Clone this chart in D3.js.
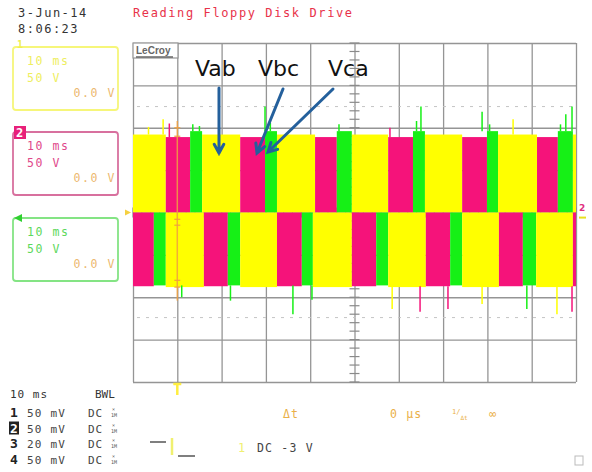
<!DOCTYPE html>
<html>
<head>
<meta charset="utf-8">
<script src="https://cdn.jsdelivr.net/npm/d3@7"></script>
<style>
  body { margin: 0; background: #fff; }
  svg { display: block; }
  .mono { font-family: "DejaVu Sans Mono", monospace; }
</style>
</head>
<body>
<svg id="scope" width="592" height="472"></svg>
<script>
// time axis is ms (10 ms/div), vertical is volts (50 V/div)
const timeTicks = [0, 10, 20, 30, 40, 50, 60, 70, 80, 90, 100];
const voltTicks = [200, 150, 100, 50, 0, -50, -100, -150, -200];

// positive half of the screen: segment edges (ms) and which line voltage is on top
const topEdges = [0, 7.4, 12.9, 15.6, 24.2, 29.8, 32.5, 41.1, 46.0, 49.4, 57.6, 63.2, 65.9, 74.3, 79.9, 82.4, 91.2, 95.9, 99.3, 100];
const topPhase = ["Vab", "Vbc", "Vca", "Vab", "Vbc", "Vca", "Vab", "Vbc", "Vca", "Vab", "Vbc", "Vca", "Vab", "Vbc", "Vca", "Vab", "Vbc", "Vca", "Vab"];
// negative half
const lowEdges = [0, 4.7, 7.4, 16.0, 21.4, 24.2, 32.5, 38.1, 40.6, 49.4, 54.9, 57.6, 66.1, 71.6, 74.3, 82.6, 88.0, 91.0, 99.3, 100];
const lowPhase = ["Vbc", "Vca", "Vab", "Vbc", "Vca", "Vab", "Vbc", "Vca", "Vab", "Vbc", "Vca", "Vab", "Vbc", "Vca", "Vab", "Vbc", "Vca", "Vab", "Vbc"];

const topLevel = { Vab: 92, Vbc: 89, Vca: 96 };
const lowLevel = { Vab: -88, Vbc: -87, Vca: -86 };

// switching spikes
const spikeUpT = [3.5, 6.8, 8.2, 13.5, 15.0, 29.8, 31.0, 46.5, 58.0, 64.0, 65.0, 78.8, 80.5, 85.8, 96.5, 97.7, 99.1];
const spikeUpV = [101, 110, 105, 104, 102, 125, 106, 104, 100, 108, 125, 119, 104, 110, 104, 116, 125];
const spikeUpP = ["Vab", "Vab", "Vbc", "Vca", "Vca", "Vca", "Vca", "Vca", "Vbc", "Vca", "Vca", "Vca", "Vca", "Vab", "Vca", "Vca", "Vca"];
const spikeDnT = [11.0, 22.0, 36.1, 40.4, 58.5, 64.8, 71.1, 78.8, 88.9, 95.7, 99.1];
const spikeDnV = [-100, -104, -120, -103, -114, -117, -114, -108, -114, -120, -117];
const spikeDnP = ["Vca", "Vca", "Vca", "Vca", "Vab", "Vbc", "Vbc", "Vab", "Vca", "Vab", "Vbc"];

const phaseColor = { Vab: "#ffff00", Vbc: "#f5137a", Vca: "#16f016" };

const labels = ["Vab", "Vbc", "Vca"];

const svg = d3.select("#scope");
const x = d3.scaleLinear().domain([0, 100]).range([133, 576]);
const y = d3.scaleLinear().domain([200, -200]).range([43, 382]);

// header
svg.append("text").attr("class", "mono").attr("x", 18).attr("y", 17)
  .attr("font-size", 12).attr("letter-spacing", 1.5).attr("fill", "#333").text("3-Jun-14");
svg.append("text").attr("class", "mono").attr("x", 18).attr("y", 33)
  .attr("font-size", 12).attr("letter-spacing", 1.5).attr("fill", "#333").text("8:06:23");
svg.append("text").attr("class", "mono").attr("x", 133).attr("y", 17)
  .attr("font-size", 12).attr("letter-spacing", 1.6).attr("fill", "#e8324a").text("Reading Floppy Disk Drive");

// grid
const grid = svg.append("g");
grid.append("g").attr("transform", `translate(0,${y(-200)})`)
  .call(d3.axisBottom(x).tickValues(timeTicks).tickSize(y(-200) - y(200)).tickFormat(""))
  .call(g => g.selectAll("line").attr("transform", `translate(0,${-(y(-200) - y(200))})`));
grid.append("g").attr("transform", `translate(${x(0)},0)`)
  .call(d3.axisRight(y).tickValues(voltTicks).tickSize(x(100) - x(0)).tickFormat(""));
grid.selectAll(".domain").remove();
grid.selectAll("line").attr("stroke", "#959595").attr("stroke-width", 1.3);

// dotted reference lines
[125, -124].forEach(v => {
  svg.append("line").attr("x1", x(0) + 4).attr("x2", x(100) - 4)
    .attr("y1", y(v)).attr("y2", y(v))
    .attr("stroke", "#c4c4c4").attr("stroke-width", 1).attr("stroke-dasharray", "3,6");
});

// center minor ticks
const centre = svg.append("g").attr("stroke", "#8a8a8a").attr("stroke-width", 1.2);
d3.range(-200, 201, 10).forEach(v => {
  centre.append("line").attr("x1", x(50) - 5).attr("x2", x(50) + 5).attr("y1", y(v)).attr("y2", y(v));
});
d3.range(0, 101, 2).forEach(t => {
  centre.append("line").attr("x1", x(t)).attr("x2", x(t)).attr("y1", y(0) - 5).attr("y2", y(0) + 5);
});

// LeCroy tag
svg.append("rect").attr("x", x(0)).attr("y", y(200)).attr("width", 45).attr("height", 15)
  .attr("fill", "#fff").attr("stroke", "#959595").attr("stroke-width", 1.2);
svg.append("text").attr("x", x(0) + 3).attr("y", y(200) + 11).attr("font-family", "Liberation Sans")
  .attr("font-size", 10).attr("font-weight", "bold").attr("fill", "#666").text("LeCroy");
svg.append("line").attr("x1", x(0) + 3).attr("x2", x(0) + 40).attr("y1", y(200) + 14).attr("y2", y(200) + 14)
  .attr("stroke", "#666").attr("stroke-width", 1.5);

// waveform blocks
function segs(edges, phase, level) {
  return phase.map((p, i) => ({ t0: edges[i], t1: edges[i + 1], p: p, v: level[p] }));
}
const wave = svg.append("g");
wave.selectAll("rect.top").data(segs(topEdges, topPhase, topLevel)).enter().append("rect")
  .attr("class", "top")
  .attr("x", d => x(d.t0)).attr("width", d => x(d.t1) - x(d.t0))
  .attr("y", d => y(d.v)).attr("height", d => y(0) - y(d.v))
  .attr("fill", d => phaseColor[d.p]);
wave.selectAll("rect.low").data(segs(lowEdges, lowPhase, lowLevel)).enter().append("rect")
  .attr("class", "low")
  .attr("x", d => x(d.t0)).attr("width", d => x(d.t1) - x(d.t0))
  .attr("y", y(0)).attr("height", d => y(d.v) - y(0))
  .attr("fill", d => phaseColor[d.p]);

// spikes
wave.selectAll("line.up").data(spikeUpT).enter().append("line")
  .attr("x1", d => x(d)).attr("x2", d => x(d))
  .attr("y1", (d, i) => y(topLevel[spikeUpP[i]])).attr("y2", (d, i) => y(spikeUpV[i]))
  .attr("stroke", (d, i) => phaseColor[spikeUpP[i]]).attr("stroke-width", 1.5);
wave.selectAll("line.dn").data(spikeDnT).enter().append("line")
  .attr("x1", d => x(d)).attr("x2", d => x(d))
  .attr("y1", (d, i) => y(lowLevel[spikeDnP[i]])).attr("y2", (d, i) => y(spikeDnV[i]))
  .attr("stroke", (d, i) => phaseColor[spikeDnP[i]]).attr("stroke-width", 1.5);

// trigger marker (10 ms)
svg.append("line").attr("x1", x(10)).attr("x2", x(10)).attr("y1", y(108)).attr("y2", y(-104))
  .attr("stroke", "#f0a040").attr("stroke-width", 1.5).attr("opacity", 0.85);
[100, 90, -8, -15, -80, -88].forEach(v => {
  svg.append("line").attr("x1", x(10) - 3).attr("x2", x(10) + 3).attr("y1", y(v)).attr("y2", y(v))
    .attr("stroke", "#f0a040").attr("stroke-width", 1.2);
});
svg.append("path").attr("d", `M${x(10) - 4},${y(-200) + 2}H${x(10) + 4}M${x(10)},${y(-200) + 2}V${y(-200) + 13}`)
  .attr("stroke", "#ffee40").attr("stroke-width", 2.5).attr("fill", "none");

// channel offset markers
svg.append("path").attr("d", `M${x(0) - 8},${y(0) - 3}L${x(0) - 2},${y(0)}L${x(0) - 8},${y(0) + 3}Z`).attr("fill", "#f5d040");
svg.append("text").attr("x", x(100) + 3).attr("y", y(0) - 2).attr("font-size", 9).attr("font-family", "DejaVu Sans")
  .attr("font-weight", "bold").attr("fill", "#e03080").text("2");
svg.append("line").attr("x1", x(100) + 3).attr("x2", x(100) + 10).attr("y1", y(-6)).attr("y2", y(-6))
  .attr("stroke", "#e8e020").attr("stroke-width", 2);

// arrows + labels
const arrowFrom = [[219, 88], [283, 89], [333, 89]];
const arrowTo = [[219, 153], [257, 153], [268, 152]];
const textX = [195, 258, 328];
labels.forEach((l, i) => {
  svg.append("text").attr("x", textX[i]).attr("y", 76).attr("font-family", "DejaVu Sans")
    .attr("font-size", 22).attr("fill", "#111").text(l);
  const [x0, y0] = arrowFrom[i], [x1, y1] = arrowTo[i];
  const a = Math.atan2(y1 - y0, x1 - x0), h = 10;
  svg.append("path")
    .attr("d", `M${x0},${y0}L${x1},${y1}M${x1 - h * Math.cos(a - 0.5)},${y1 - h * Math.sin(a - 0.5)}L${x1},${y1}L${x1 - h * Math.cos(a + 0.5)},${y1 - h * Math.sin(a + 0.5)}`)
    .attr("stroke", "#24609c").attr("stroke-width", 3).attr("fill", "none").attr("stroke-linecap", "round");
});

// channel boxes on the left
const boxTop = [47, 132, 218];
const boxStroke = ["#f6f67a", "#d8709e", "#84e484"];
const boxText = ["#eeee60", "#e0488a", "#5cd85c"];
boxTop.forEach((t, i) => {
  svg.append("rect").attr("x", 13).attr("y", t).attr("width", 105).attr("height", 63).attr("rx", 3)
    .attr("fill", "none").attr("stroke", boxStroke[i]).attr("stroke-width", 1.8);
  svg.append("text").attr("class", "mono").attr("x", 27).attr("y", t + 18).attr("font-size", 11.5)
    .attr("letter-spacing", 1.6).attr("fill", boxText[i]).text("10 ms");
  svg.append("text").attr("class", "mono").attr("x", 27).attr("y", t + 35).attr("font-size", 11.5)
    .attr("letter-spacing", 1.6).attr("fill", boxText[i]).text("50 V");
  svg.append("text").attr("class", "mono").attr("x", 116).attr("y", t + 50).attr("font-size", 11.5)
    .attr("letter-spacing", 1.6).attr("text-anchor", "end").attr("fill", "#ecb870").text("0.0 V");
});
svg.append("text").attr("class", "mono").attr("x", 17).attr("y", 48).attr("font-size", 10)
  .attr("font-weight", "bold").attr("fill", "#f0f050").text("1");
svg.append("rect").attr("x", 14).attr("y", 126).attr("width", 12).attr("height", 13).attr("fill", "#e8207a");
svg.append("text").attr("class", "mono").attr("x", 16).attr("y", 137).attr("font-size", 12)
  .attr("font-weight", "bold").attr("fill", "#fff").text("2");
svg.append("path").attr("d", "M14,218L22,214L22,222Z").attr("fill", "#30d030");

// bottom readout
const rowNum = ["1", "2", "3", "4"];
const rowVdiv = ["50 mV", "50 mV", "20 mV", "50 mV"];
svg.append("text").attr("class", "mono").attr("x", 10).attr("y", 398).attr("font-size", 11)
  .attr("letter-spacing", 1).attr("fill", "#333").text("10 ms");
svg.append("text").attr("class", "mono").attr("x", 95).attr("y", 398).attr("font-size", 11)
  .attr("fill", "#333").text("BWL");
rowNum.forEach((n, i) => {
  const yy = 417 + i * 15.5;
  if (i === 1) {
    svg.append("rect").attr("x", 9).attr("y", yy - 11).attr("width", 10).attr("height", 13).attr("fill", "#222");
  }
  svg.append("text").attr("class", "mono").attr("x", 10).attr("y", yy).attr("font-size", 13)
    .attr("font-weight", "bold").attr("fill", i === 1 ? "#fff" : "#222").text(n);
  svg.append("text").attr("class", "mono").attr("x", 27).attr("y", yy).attr("font-size", 11)
    .attr("letter-spacing", 1.2).attr("fill", "#444").text(rowVdiv[i]);
  svg.append("text").attr("class", "mono").attr("x", 88).attr("y", yy).attr("font-size", 11)
    .attr("letter-spacing", 1).attr("fill", "#444").text("DC");
  svg.append("text").attr("class", "mono").attr("x", 112).attr("y", yy - 6).attr("font-size", 5)
    .attr("fill", "#555").text("×");
  svg.append("text").attr("class", "mono").attr("x", 111).attr("y", yy).attr("font-size", 5)
    .attr("fill", "#555").text("1M");
});

// trigger symbol
svg.append("path").attr("d", "M150,442H166").attr("stroke", "#555").attr("stroke-width", 1.5);
svg.append("path").attr("d", "M172,438V455").attr("stroke", "#f0f070").attr("stroke-width", 2.5);
svg.append("path").attr("d", "M178,456H195").attr("stroke", "#555").attr("stroke-width", 1.5);
svg.append("text").attr("class", "mono").attr("x", 238).attr("y", 452).attr("font-size", 12)
  .attr("fill", "#f0f070").text("1");
svg.append("text").attr("class", "mono").attr("x", 257).attr("y", 452).attr("font-size", 11.5)
  .attr("letter-spacing", 1.2).attr("fill", "#444").text("DC -3 V");

// cursor readout
svg.append("text").attr("class", "mono").attr("x", 283).attr("y", 418).attr("font-size", 11.5)
  .attr("letter-spacing", 1.2).attr("fill", "#eab048").text("Δt");
svg.append("text").attr("class", "mono").attr("x", 390).attr("y", 418).attr("font-size", 11.5)
  .attr("letter-spacing", 1.2).attr("fill", "#eab048").text("0 µs");
const inv = svg.append("text").attr("class", "mono").attr("x", 452).attr("y", 414).attr("font-size", 7)
  .attr("fill", "#eab048");
inv.append("tspan").text("1/");
inv.append("tspan").attr("dy", 6).attr("font-size", 6).text("Δt");
svg.append("text").attr("class", "mono").attr("x", 489).attr("y", 418).attr("font-size", 12)
  .attr("fill", "#eab048").text("∞");
svg.append("rect").attr("x", 575).attr("y", 456).attr("width", 8).attr("height", 9)
  .attr("fill", "none").attr("stroke", "#bbb").attr("stroke-width", 1);
</script>
</body>
</html>
